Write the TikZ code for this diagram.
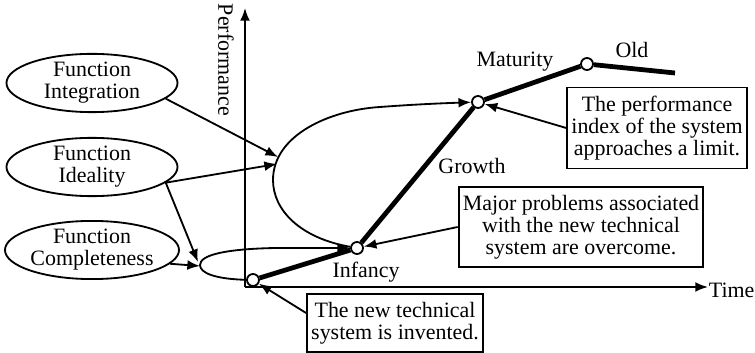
\documentclass[tikz,border=0pt]{standalone}
\usepackage{fontspec}
\setmainfont{Liberation Serif}
\usepackage{tikz}
\usetikzlibrary{calc,shapes,positioning}
\usetikzlibrary{arrows.meta}

\begin{document}
\begin{tikzpicture}[x=0.025cm, y=-0.025cm, line width=1.3pt,
    >={Latex[length=9pt,width=7pt]},
    font=\fontsize{15.6}{15.6}\selectfont]
      \tikzstyle{fnode} = [draw, ellipse, inner sep = 0pt, minimum width = 4.275cm, minimum height = 1.33cm, align=center]
      \tikzstyle{bnode} = [draw, rectangle, inner xsep = 3pt, inner ysep = 6pt, align=center]
      \tikzstyle{pnode} = [draw, circle, fill=white, inner sep = 0pt, minimum size = 0.3cm]
      \tikzstyle{lcurve} = [line width = 3.4pt]

      \useasboundingbox (0,0) rectangle (755,353);

      % function ellipses
      \node[fnode] (integ) at (92,83) {Function\\Integration};
      \node[fnode] (ideal) at (92,167) {Function\\Ideality};
      \node[fnode] (compl) at (92,250) {Function\\Completeness};

      % axes
      \coordinate (orig) at (245,287);
      \coordinate (ytop) at (245,8);
      \coordinate (xend) at (708,287);
      \draw[->] (orig) -- (ytop);
      \draw[->] (orig) -- (xend);
      \node[anchor=west, inner sep = 0pt] (time) at (708,290) {Time};
      \node[rotate=-90] (perf) at (226,60) {Performance};

      % life curve
      \node[pnode] (p0) at (253,280) {};
      \node[pnode] (p1) at (357,248) {};
      \node[pnode] (p2) at (478,102) {};
      \node[pnode] (p3) at (587,64) {};
      \coordinate (p4) at (675,73);
      \draw[lcurve] (p0) -- (p1) -- (p2) -- (p3) -- (p4);

      \node (infancy) at (366,272) {Infancy};
      \node (growth) at (472,166) {Growth};
      \node (maturity) at (515,62) {Maturity};
      \node (old) at (632,50) {Old};

      % jumps
      \draw[->] (p0) .. controls (215,279) and (200,273) .. (200,265)
        .. controls (200,255) and (225,249) .. (275,248) -- (p1);
      \draw[->] (p1) .. controls (300,238) and (273,210) .. (273,180)
        .. controls (273,135) and (330,110) .. (380,107)
        .. controls (420,104) and (450,103) .. (p2);

      % notes
      \node[bnode] (limit) at (657,128) {The performance\\index of the system\\approaches a limit.};
      \node[bnode] (major) at (581,227) {Major problems associated\\with the new technical\\system are overcome.};
      \node[bnode] (invent) at (395,323) {The new technical\\system is invented.};
      \draw[->] (limit.west) -- (p2);
      \draw[->] (major.west) -- (p1);
      \draw[->] ($(invent.west)+(0,-10)$) -- (p0);

      % connections
      \coordinate (bigA) at (278,157);
      \coordinate (bigB) at (277,164);
      \coordinate (smallA) at (198,262);
      \coordinate (smallB) at (200,266);
      \draw[->] (integ.-12) -- (bigA);
      \draw[->] (ideal.-12) -- (bigB);
      \draw[->] (ideal.-12) -- (smallA);
      \draw[->] (compl.-10) -- (smallB);
\end{tikzpicture}
\end{document}
